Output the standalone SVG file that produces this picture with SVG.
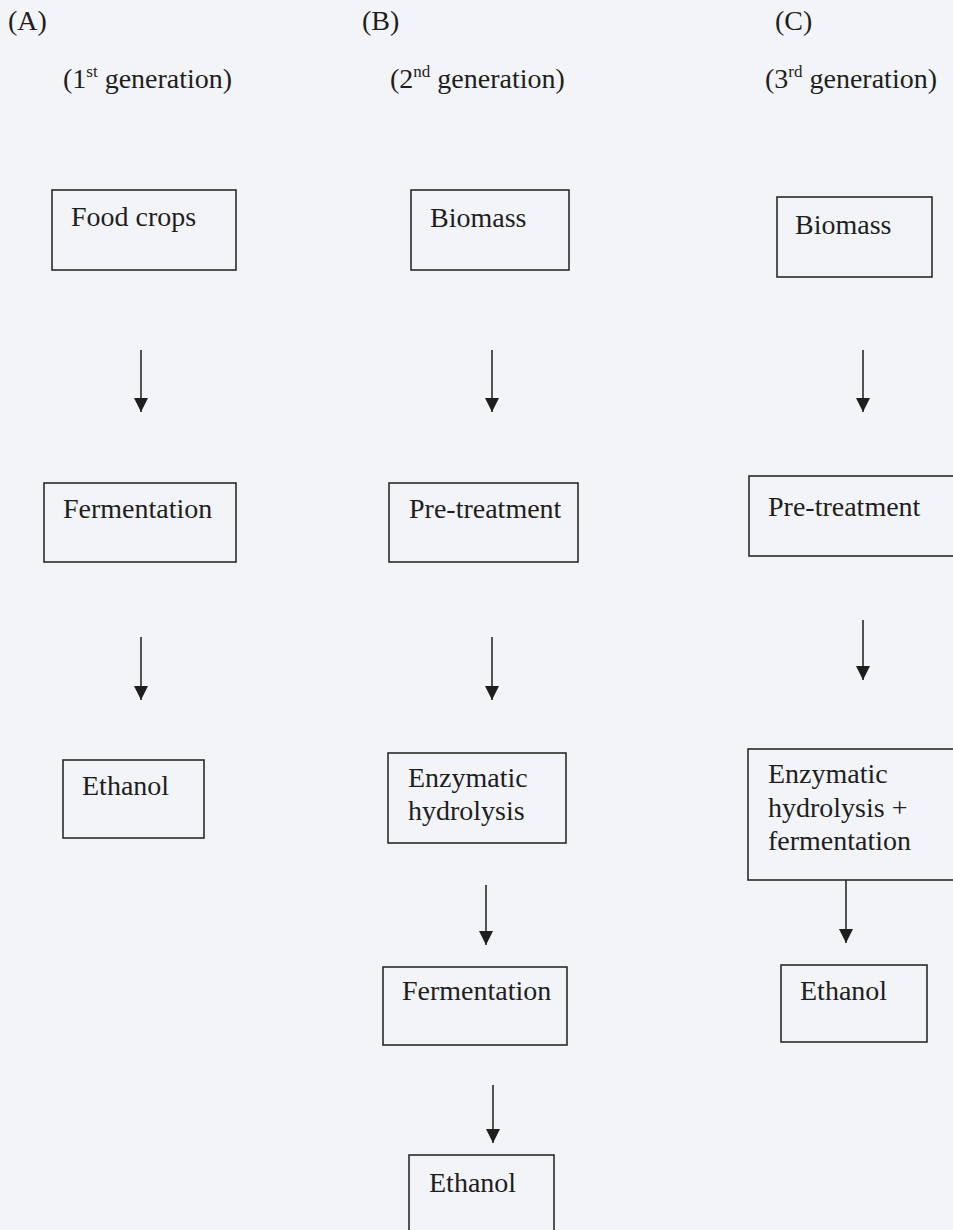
<svg xmlns="http://www.w3.org/2000/svg" width="953" height="1230" viewBox="0 0 953 1230">
<style>
.bg{fill:#f3f4f8}
.box{fill:none;stroke:#2b2b2b;stroke-width:1.6}
.t{font-family:"Liberation Serif","Times New Roman",serif;font-size:28px;fill:#1e1e1e}
.sup{font-size:17px}
.c{stroke:#2b2b2b;stroke-width:1.6;fill:none}
</style>
<defs>
<marker id="arr" markerWidth="14" markerHeight="14" refX="14" refY="7" orient="auto" markerUnits="userSpaceOnUse" viewBox="0 0 14 14">
<path d="M0,0 L14,7 L0,14 Z" fill="#1e1e1e"/>
</marker>
</defs>
<rect class="bg" x="0" y="0" width="953" height="1230"/>

<g id="headers">
<text class="t" x="8" y="30">(A)</text>
<text class="t" x="362" y="30">(B)</text>
<text class="t" x="775" y="30">(C)</text>
<text class="t" x="63" y="88">(1<tspan class="sup" dy="-11">st</tspan><tspan dy="11"> generation)</tspan></text>
<text class="t" x="390" y="88">(2<tspan class="sup" dy="-11">nd</tspan><tspan dy="11"> generation)</tspan></text>
<text class="t" x="765" y="88">(3<tspan class="sup" dy="-11">rd</tspan><tspan dy="11"> generation)</tspan></text>
</g>

<g id="a-food-crops"><rect class="box" x="52" y="190" width="184" height="80"/><text class="t" x="71" y="226">Food crops</text></g>
<g id="a-fermentation"><rect class="box" x="44" y="483" width="192" height="79"/><text class="t" x="63" y="518">Fermentation</text></g>
<g id="a-ethanol"><rect class="box" x="63" y="760" width="141" height="78"/><text class="t" x="82" y="795">Ethanol</text></g>

<g id="b-biomass"><rect class="box" x="411" y="190" width="158" height="80"/><text class="t" x="430" y="227">Biomass</text></g>
<g id="b-pretreatment"><rect class="box" x="389" y="483" width="189" height="79"/><text class="t" x="409" y="518">Pre-treatment</text></g>
<g id="b-enzymatic"><rect class="box" x="388" y="753" width="178" height="90"/><text class="t" x="408" y="787">Enzymatic</text><text class="t" x="408" y="820">hydrolysis</text></g>
<g id="b-fermentation"><rect class="box" x="383" y="967" width="184" height="78"/><text class="t" x="402" y="1000">Fermentation</text></g>
<g id="b-ethanol"><rect class="box" x="409" y="1155" width="145" height="90"/><text class="t" x="429" y="1192">Ethanol</text></g>

<g id="c-biomass"><rect class="box" x="777" y="197" width="155" height="80"/><text class="t" x="795" y="234">Biomass</text></g>
<g id="c-pretreatment"><rect class="box" x="749" y="476" width="215" height="80"/><text class="t" x="768" y="516">Pre-treatment</text></g>
<g id="c-enzymatic"><rect class="box" x="748" y="749" width="215" height="131"/><text class="t" x="768" y="783">Enzymatic</text><text class="t" x="768" y="817">hydrolysis +</text><text class="t" x="768" y="850">fermentation</text></g>
<g id="c-ethanol"><rect class="box" x="781" y="965" width="146" height="77"/><text class="t" x="800" y="1000">Ethanol</text></g>

<g id="connectors">
<line class="c" x1="141" y1="350" x2="141" y2="412" marker-end="url(#arr)"/>
<line class="c" x1="141" y1="637" x2="141" y2="700" marker-end="url(#arr)"/>
<line class="c" x1="492" y1="350" x2="492" y2="412" marker-end="url(#arr)"/>
<line class="c" x1="492" y1="637" x2="492" y2="700" marker-end="url(#arr)"/>
<line class="c" x1="486" y1="885" x2="486" y2="945" marker-end="url(#arr)"/>
<line class="c" x1="493" y1="1085" x2="493" y2="1143" marker-end="url(#arr)"/>
<line class="c" x1="863" y1="350" x2="863" y2="412" marker-end="url(#arr)"/>
<line class="c" x1="863" y1="620" x2="863" y2="680" marker-end="url(#arr)"/>
<line class="c" x1="846" y1="880" x2="846" y2="943" marker-end="url(#arr)"/>
</g>
</svg>
